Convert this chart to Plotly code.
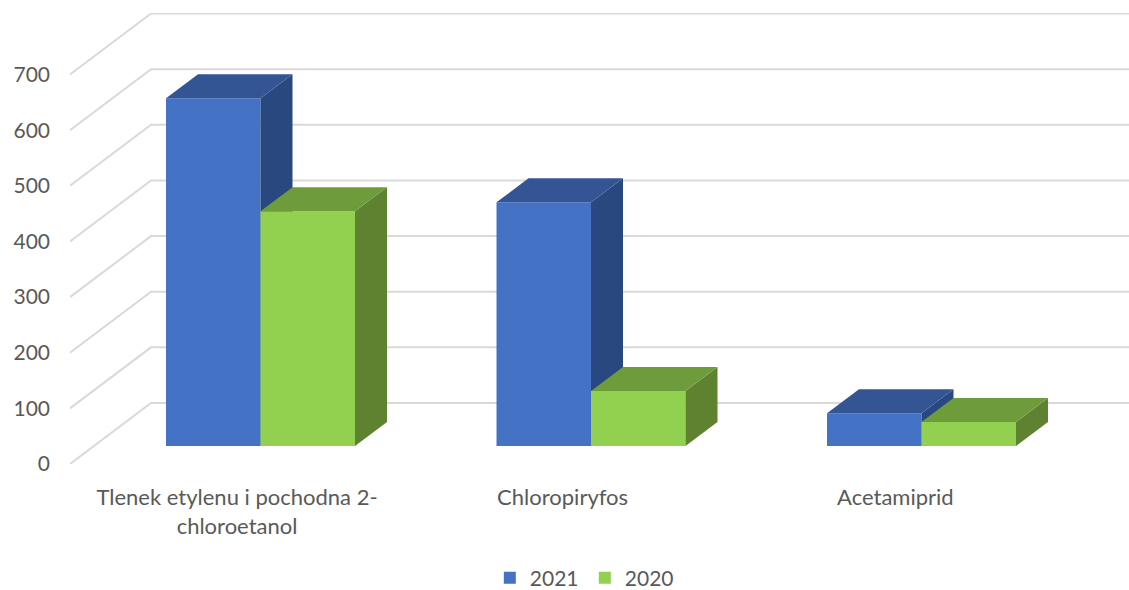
import plotly.graph_objects as go

categories = ["Tlenek etylenu i pochodna 2-<br>chloroetanol", "Chloropiryfos", "Acetamiprid"]
values_2021 = [625, 438, 59]
values_2020 = [422, 99, 43]
y_ticks = [0, 100, 200, 300, 400, 500, 600, 700]

W, H = 1129, 590
ML, MT, MB = 70, 13, 126
PX_CAT = 330.5           # pixels per category
PX_VAL = 0.5564          # pixels per value unit
X0 = 260.5               # pixel of category 0 (join of the two bars)
wall_dx, wall_dy = 81 / PX_CAT, 61 / PX_VAL
bar_dx, bar_dy = 32 / PX_CAT, 24 / PX_VAL
bar_w = 94.5 / PX_CAT
floor = 18 / PX_VAL
label_pos = [-0.071, 0.914, 1.921]
x_range = [(ML - X0) / PX_CAT, (W - X0) / PX_CAT]
y_range = [0, (H - MT - MB) / PX_VAL]

FONT = "Lato, Carlito, sans-serif"
TXT = "#595959"
GRID = "#D9D9D9"

fig = go.Figure()

for v in y_ticks:
    fig.add_trace(go.Scatter(
        x=[x_range[0], x_range[0] + wall_dx, x_range[1]],
        y=[v, v + wall_dy, v + wall_dy],
        mode="lines", line=dict(color=GRID, width=2),
        showlegend=False, hoverinfo="skip", cliponaxis=False))


def series(name, vals, offset, front, top, side, xa, ya):
    xs = list(range(len(vals)))
    fig.add_trace(go.Bar(
        x=xs, y=vals, base=[floor] * len(vals), width=bar_w, offset=offset,
        name=name, marker=dict(color=front, line=dict(width=0)),
        xaxis=xa, yaxis=ya))
    for x, v in zip(xs, vals):
        xl = x + offset
        xr = xl + bar_w
        t = floor + v
        fig.add_trace(go.Scatter(
            x=[xr, xr, xr + bar_dx, xr + bar_dx, xr],
            y=[floor, t, t + bar_dy, floor + bar_dy, floor],
            fill="toself", fillcolor=side, mode="lines", line=dict(width=0, color=side),
            showlegend=False, hoverinfo="skip", xaxis=xa, yaxis=ya))
        fig.add_trace(go.Scatter(
            x=[xl, xr, xr + bar_dx, xl + bar_dx, xl],
            y=[t, t, t + bar_dy, t + bar_dy, t],
            fill="toself", fillcolor=top, mode="lines", line=dict(width=0, color=top),
            showlegend=False, hoverinfo="skip", xaxis=xa, yaxis=ya))


series("2021", values_2021, -bar_w, "#4472C4", "#335593", "#2A4880", "x2", "y2")
series("2020", values_2020, 0, "#92D050", "#6F9C3B", "#5E8230", "x3", "y3")

hidden_x = dict(range=x_range, overlaying="x", visible=False, fixedrange=True)
hidden_y = dict(range=y_range, overlaying="y", visible=False, fixedrange=True)

fig.update_layout(
    width=W, height=H,
    margin=dict(l=ML, r=0, t=MT, b=MB, pad=0),
    paper_bgcolor="white", plot_bgcolor="white",
    barmode="overlay",
    font=dict(family=FONT, size=21, color=TXT),
    showlegend=True,
    legend=dict(orientation="h", x=0.518, xanchor="center", xref="container",
                y=0.02, yanchor="middle", yref="container",
                font=dict(size=21, color=TXT),
                traceorder="normal", itemwidth=30,
                entrywidth=50, entrywidthmode="pixels"),
    xaxis=dict(range=x_range, showgrid=False, zeroline=False, showline=False,
               tickmode="array", tickvals=label_pos, ticktext=categories,
               ticks="", ticklabelstandoff=18, tickangle=0,
               tickfont=dict(family=FONT, size=22, color=TXT), fixedrange=True),
    yaxis=dict(range=y_range, showgrid=False, zeroline=False, showline=False,
               tickmode="array", tickvals=y_ticks, ticktext=[str(t) for t in y_ticks],
               ticks="", ticklabelstandoff=19,
               tickfont=dict(family=FONT, size=21, color=TXT), fixedrange=True),
    xaxis2=hidden_x, yaxis2=hidden_y,
    xaxis3=hidden_x, yaxis3=hidden_y,
)
fig.update_layout(xaxis2=dict(anchor="y2"), yaxis2=dict(anchor="x2"),
                  xaxis3=dict(anchor="y3"), yaxis3=dict(anchor="x3"))

fig.write_html("out.html", config={"displayModeBar": False},
               post_script="document.body.style.margin='0';")
